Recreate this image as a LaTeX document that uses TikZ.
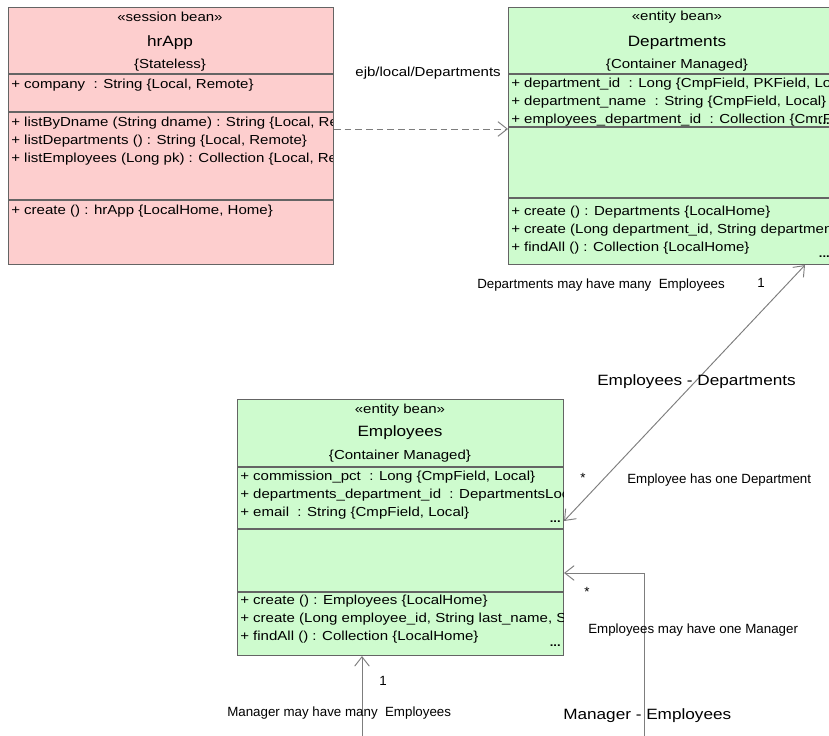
\documentclass[tikz,border=0pt]{standalone}
\usepackage{fontspec}
\setmainfont[FakeStretch=1.15]{Liberation Sans}
\newfontfamily\lblfont{Liberation Sans}
\usetikzlibrary{arrows.meta}
\definecolor{pinkfill}{RGB}{253,206,206}
\definecolor{greenfill}{RGB}{206,251,206}
\definecolor{edgecol}{RGB}{100,100,100}
\definecolor{conncol}{RGB}{125,125,125}
\tikzset{
  umlbox/.style={draw=edgecol, line width=0.8pt, anchor=north west, inner sep=0pt},
  sepline/.style={draw=edgecol, line width=0.8pt},
  body/.style={anchor=west, inner sep=0pt, font=\fontsize{9.8}{11}\selectfont},
  cbody/.style={inner sep=0pt, font=\fontsize{9.8}{11}\selectfont},
  lbl/.style={anchor=west, inner sep=0pt, font=\lblfont\fontsize{10}{12}\selectfont},
  titletxt/.style={inner sep=0pt, font=\fontsize{11.2}{13}\selectfont},
  bigtxt/.style={anchor=west, inner sep=0pt, font=\fontsize{11.2}{13}\selectfont},
  dotstxt/.style={anchor=east, inner sep=0pt, font=\fontsize{8.5}{9}\selectfont\bfseries},
  assoc/.style={draw=conncol, line width=0.7pt},
  opentip/.tip={Straight Barb[length=7pt,width=11pt,line width=0.7pt]}
}
\begin{document}
\begin{tikzpicture}[x=0.75pt,y=-0.75pt]
\useasboundingbox (0,0) rectangle (829,736);
\clip (0,0) rectangle (829,736);
\fill[white] (0,0) rectangle (829,736);

% ---------- boxes ----------
\node[umlbox, fill=pinkfill, minimum width=243.75pt, minimum height=192.75pt] (hr) at (8,7) {};
\node[umlbox, fill=greenfill, minimum width=253.5pt, minimum height=192.75pt] (dep) at (508,7) {};
\node[umlbox, fill=greenfill, minimum width=244.5pt, minimum height=192pt] (emp) at (237,399) {};

% ---------- hrApp ----------
\draw[sepline] (8,74) -- (333,74);
\draw[sepline] (8,112) -- (333,112);
\draw[sepline] (8,200) -- (333,200);
\begin{scope}
\clip (8,7) rectangle (332,264);
\node[cbody] (hrst) at (170,17) {«session bean»};
\node[titletxt] (hrname) at (170,43) {hrApp};
\node[cbody] (hrprop) at (170,65) {\{Stateless\}};
\node[body] (hra1) at (11,85) {+ company\ \ : String \{Local, Remote\}};
\node[body] (hrm1) at (11,123) {+ listByDname (String dname) : String \{Local, Remote\}};
\node[body] (hrm2) at (11,141) {+ listDepartments () : String \{Local, Remote\}};
\node[body] (hrm3) at (11,159) {+ listEmployees (Long pk) : Collection \{Local, Remote\}};
\node[body] (hrh1) at (11,211) {+ create () : hrApp \{LocalHome, Home\}};
\end{scope}

% ---------- Departments ----------
\draw[sepline] (508,74) -- (846,74);
\draw[sepline] (508,127) -- (846,127);
\draw[sepline] (508,198) -- (846,198);
\begin{scope}
\clip (508,7) rectangle (846,264);
\node[cbody] (depst) at (677,17) {«entity bean»};
\node[titletxt] (depname) at (677,43) {Departments};
\node[cbody] (depprop) at (677,65) {\{Container Managed\}};
\node[body] (depa1) at (511,84) {+ department\_id\ \ : Long \{CmpField, PKField, Local\}};
\node[body] (depa2) at (511,102) {+ department\_name\ \ : String \{CmpField, Local\}};
\node[body] (depa3) at (511,120) {+ employees\_department\_id\ \ : Collection \{CmrField, Local\}};
\node[dotstxt] (depd1) at (830,124) {...};
\node[body] (deph1) at (511,212) {+ create () : Departments \{LocalHome\}};
\node[body] (deph2) at (511,230) {+ create (Long department\_id, String department\_name)};
\node[body] (deph3) at (511,248) {+ findAll () : Collection \{LocalHome\}};
\node[dotstxt] (depd2) at (830,257) {...};
\end{scope}

% ---------- Employees ----------
\draw[sepline] (237,467) -- (563,467);
\draw[sepline] (237,529) -- (563,529);
\draw[sepline] (237,592) -- (563,592);
\begin{scope}
\clip (237,399) rectangle (563,655);
\node[cbody] (empst) at (400,410) {«entity bean»};
\node[titletxt] (empname) at (400,433) {Employees};
\node[cbody] (empprop) at (400,456) {\{Container Managed\}};
\node[body] (empa1) at (240,477) {+ commission\_pct\ \ : Long \{CmpField, Local\}};
\node[body] (empa2) at (240,495) {+ departments\_department\_id\ \ : DepartmentsLocal \{CmrField, Local\}};
\node[body] (empa3) at (240,513) {+ email\ \ : String \{CmpField, Local\}};
\node[dotstxt] (empd1) at (561,522) {...};
\node[body] (emph1) at (240,601) {+ create () : Employees \{LocalHome\}};
\node[body] (emph2) at (240,619) {+ create (Long employee\_id, String last\_name, String email)};
\node[body] (emph3) at (240,637) {+ findAll () : Collection \{LocalHome\}};
\node[dotstxt] (empd2) at (561,646) {...};
\end{scope}

% ---------- connectors ----------
\coordinate (dy) at (0,129);
\draw[assoc, dash pattern=on 5pt off 3pt, -opentip] (hr.east |- dy) -- (dep.west |- dy);
\node[body, anchor=east] (ejb) at (501,73) {ejb/local/Departments};

\coordinate (dex) at (805,0);
\coordinate (dey) at (0,521);
\draw[assoc, opentip-opentip] (emp.east |- dey) -- (dep.south -| dex);
\node[lbl] (dmany) at (477,285) {Departments may have many\ \ Employees};
\node[lbl] (one1) at (757,283) {1};
\node[bigtxt] (edname) at (597,382) {Employees - Departments};
\node[lbl] (star1) at (580,478) {*};
\node[lbl] (eone) at (627,480) {Employee has one Department};

\coordinate (mgx) at (362,0);
\coordinate (mb) at (362,760);
\coordinate (mc) at (644,760);
\coordinate (md) at (644,573);
\draw[assoc, opentip-opentip] (emp.south -| mgx) -- (mb) -- (mc) -- (md) -- (emp.east |- md);
\node[lbl] (one2) at (379,681) {1};
\node[lbl] (mmany) at (227,713) {Manager may have many\ \ Employees};
\node[bigtxt] (mename) at (563,716) {Manager - Employees};
\node[lbl] (star2) at (584,592) {*};
\node[lbl] (eman) at (588,630) {Employees may have one Manager};
\end{tikzpicture}
\end{document}
